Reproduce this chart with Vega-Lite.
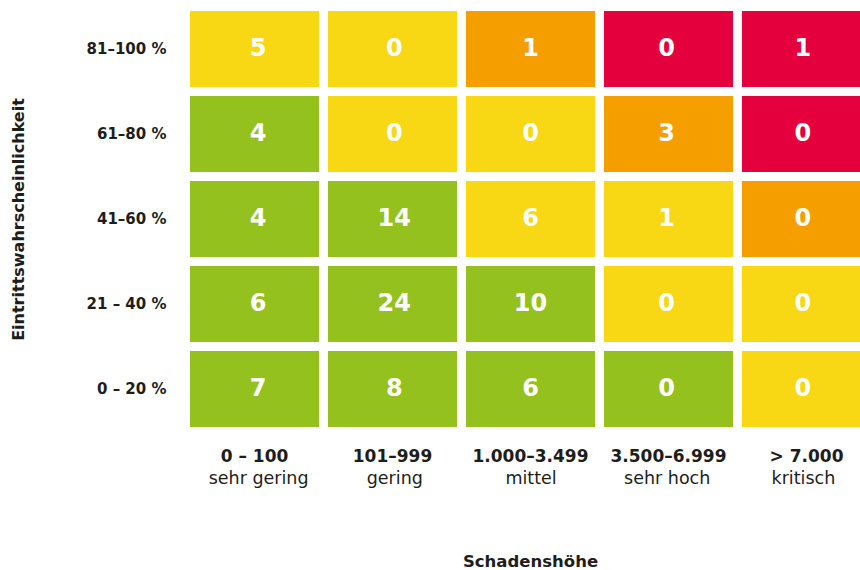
{
  "$schema": "https://vega.github.io/schema/vega-lite/v6.json",
  "width": 670,
  "height": 416,
  "autosize": {"type": "none"},
  "padding": {"left": 190, "top": 11, "right": 0, "bottom": 143},
  "background": "white",
  "config": {
    "view": {"stroke": null},
    "font": "DejaVu Sans",
    "axis": {"domain": false, "ticks": false, "grid": false, "labelColor": "#1d1d1b", "titleColor": "#1d1d1b"}
  },
  "data": {
    "values": [
      {"p": "81–100 %", "h": "0 – 100", "s": "sehr gering", "n": 5, "c": "gelb"},
      {"p": "81–100 %", "h": "101–999", "s": "gering", "n": 0, "c": "gelb"},
      {"p": "81–100 %", "h": "1.000–3.499", "s": "mittel", "n": 1, "c": "orange"},
      {"p": "81–100 %", "h": "3.500–6.999", "s": "sehr hoch", "n": 0, "c": "rot"},
      {"p": "81–100 %", "h": "> 7.000", "s": "kritisch", "n": 1, "c": "rot"},
      {"p": "61–80 %", "h": "0 – 100", "s": "sehr gering", "n": 4, "c": "grün"},
      {"p": "61–80 %", "h": "101–999", "s": "gering", "n": 0, "c": "gelb"},
      {"p": "61–80 %", "h": "1.000–3.499", "s": "mittel", "n": 0, "c": "gelb"},
      {"p": "61–80 %", "h": "3.500–6.999", "s": "sehr hoch", "n": 3, "c": "orange"},
      {"p": "61–80 %", "h": "> 7.000", "s": "kritisch", "n": 0, "c": "rot"},
      {"p": "41–60 %", "h": "0 – 100", "s": "sehr gering", "n": 4, "c": "grün"},
      {"p": "41–60 %", "h": "101–999", "s": "gering", "n": 14, "c": "grün"},
      {"p": "41–60 %", "h": "1.000–3.499", "s": "mittel", "n": 6, "c": "gelb"},
      {"p": "41–60 %", "h": "3.500–6.999", "s": "sehr hoch", "n": 1, "c": "gelb"},
      {"p": "41–60 %", "h": "> 7.000", "s": "kritisch", "n": 0, "c": "orange"},
      {"p": "21 – 40 %", "h": "0 – 100", "s": "sehr gering", "n": 6, "c": "grün"},
      {"p": "21 – 40 %", "h": "101–999", "s": "gering", "n": 24, "c": "grün"},
      {"p": "21 – 40 %", "h": "1.000–3.499", "s": "mittel", "n": 10, "c": "grün"},
      {"p": "21 – 40 %", "h": "3.500–6.999", "s": "sehr hoch", "n": 0, "c": "gelb"},
      {"p": "21 – 40 %", "h": "> 7.000", "s": "kritisch", "n": 0, "c": "gelb"},
      {"p": "0 – 20 %", "h": "0 – 100", "s": "sehr gering", "n": 7, "c": "grün"},
      {"p": "0 – 20 %", "h": "101–999", "s": "gering", "n": 8, "c": "grün"},
      {"p": "0 – 20 %", "h": "1.000–3.499", "s": "mittel", "n": 6, "c": "grün"},
      {"p": "0 – 20 %", "h": "3.500–6.999", "s": "sehr hoch", "n": 0, "c": "grün"},
      {"p": "0 – 20 %", "h": "> 7.000", "s": "kritisch", "n": 0, "c": "gelb"}
    ]
  },
  "encoding": {
    "y": {
      "field": "p",
      "type": "nominal",
      "sort": ["81–100 %", "61–80 %", "41–60 %", "21 – 40 %", "0 – 20 %"],
      "scale": {"paddingInner": 0.106, "paddingOuter": 0},
      "axis": {
        "title": "Eintrittswahrscheinlichkeit",
        "titleFontSize": 16,
        "titleFontWeight": "bold",
        "titleX": -172,
        "titleBaseline": "middle",
        "labelFontSize": 15,
        "labelFontWeight": "bold",
        "labelPadding": 24
      }
    }
  },
  "layer": [
    {
      "mark": {"type": "rect"},
      "encoding": {
        "x": {
          "field": "h",
          "type": "nominal",
          "sort": ["0 – 100", "101–999", "1.000–3.499", "3.500–6.999", "> 7.000"],
          "scale": {"range": [0, 681], "paddingInner": 0.065, "paddingOuter": 0},
          "axis": {
            "orient": "bottom",
            "labelAngle": 0,
            "labelFontSize": 17,
            "labelFontWeight": "bold",
            "labelPadding": 21,
            "labelBaseline": "top",
            "title": "Schadenshöhe",
            "titleFontSize": 16.5,
            "titleFontWeight": "bold",
            "titleBaseline": "middle",
            "titleX": 340,
            "titleY": 134
          }
        },
        "color": {
          "field": "c",
          "type": "nominal",
          "scale": {"domain": ["grün", "gelb", "orange", "rot"], "range": ["#95C11F", "#F8D715", "#F49E00", "#E3003C"]},
          "legend": null
        }
      }
    },
    {
      "mark": {"type": "text", "color": "white", "fontSize": 24, "fontWeight": "bold"},
      "encoding": {
        "x": {
          "field": "s",
          "type": "nominal",
          "sort": ["sehr gering", "gering", "mittel", "sehr hoch", "kritisch"],
          "scale": {"range": [0, 681], "paddingInner": 0.065, "paddingOuter": 0},
          "axis": {
            "orient": "bottom",
            "labelAngle": 0,
            "labelFontSize": 17.5,
            "labelFontWeight": "normal",
            "labelPadding": 42,
            "labelBaseline": "top",
            "title": null
          }
        },
        "text": {"field": "n", "type": "quantitative"}
      }
    }
  ],
  "resolve": {"scale": {"x": "independent"}, "axis": {"x": "independent"}}
}
